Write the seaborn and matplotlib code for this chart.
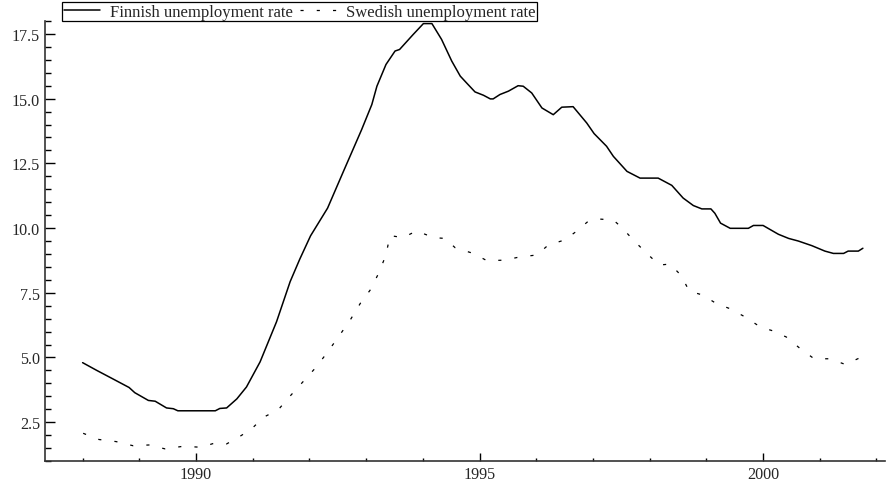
import matplotlib
matplotlib.use("Agg")
import matplotlib.pyplot as plt
from matplotlib.ticker import MultipleLocator, FormatStrFormatter
import seaborn as sns
import pandas as pd

sns.set_style("ticks")
plt.rcParams['font.family'] = ['Liberation Serif', 'DejaVu Serif']

# Finnish unemployment rate
fin_year = [1988.00, 1988.25, 1988.51, 1988.82, 1988.92, 1989.16, 1989.28, 1989.48, 1989.60, 1989.68,
            1990.34, 1990.42, 1990.54, 1990.72, 1990.89, 1991.13, 1991.42, 1991.66, 1991.83, 1992.02,
            1992.32, 1992.60, 1992.92, 1993.10, 1993.19, 1993.35, 1993.51, 1993.59, 1993.83, 1994.01,
            1994.16, 1994.33, 1994.51, 1994.66, 1994.77, 1994.92, 1995.07, 1995.19, 1995.24, 1995.36,
            1995.51, 1995.68, 1995.77, 1995.92, 1996.10, 1996.30, 1996.45, 1996.65, 1996.89, 1997.02,
            1997.24, 1997.36, 1997.60, 1997.83, 1998.15, 1998.39, 1998.59, 1998.77, 1998.92, 1999.08,
            1999.15, 1999.25, 1999.42, 1999.74, 1999.83, 2000.00, 2000.27, 2000.45, 2000.62, 2000.86,
            2001.09, 2001.24, 2001.42, 2001.50, 2001.68, 2001.76]
fin_rate = [4.80, 4.50, 4.20, 3.84, 3.64, 3.34, 3.31, 3.05, 3.02, 2.94,
            2.94, 3.03, 3.05, 3.40, 3.86, 4.83, 6.38, 7.93, 8.80, 9.70,
            10.77, 12.19, 13.80, 14.77, 15.48, 16.32, 16.84, 16.90, 17.48, 17.90,
            17.90, 17.29, 16.45, 15.87, 15.61, 15.26, 15.13, 14.99, 14.99, 15.16,
            15.29, 15.50, 15.48, 15.22, 14.64, 14.38, 14.67, 14.69, 14.06, 13.65,
            13.16, 12.77, 12.19, 11.93, 11.93, 11.65, 11.16, 10.87, 10.74, 10.74,
            10.57, 10.19, 9.99, 9.99, 10.10, 10.10, 9.76, 9.60, 9.50, 9.32,
            9.11, 9.02, 9.02, 9.11, 9.11, 9.22]

# Swedish unemployment rate
swe_year = [1988.01, 1988.29, 1988.59, 1988.89, 1989.18, 1989.45, 1989.78, 1990.09, 1990.34, 1990.54,
            1990.78, 1990.98, 1991.19, 1991.45, 1991.66, 1991.89, 1992.12, 1992.32, 1992.51, 1992.72,
            1992.90, 1993.07, 1993.22, 1993.35, 1993.42, 1993.65, 1993.89, 1994.19, 1994.39, 1994.57,
            1994.89, 1995.13, 1995.44, 1995.70, 1996.01, 1996.21, 1996.50, 1996.70, 1996.92, 1997.10,
            1997.36, 1997.51, 1997.71, 1997.95, 1998.17, 1998.36, 1998.55, 1998.70, 1998.94, 1999.17,
            1999.41, 1999.68, 1999.95, 2000.17, 2000.41, 2000.64, 2000.90, 2001.18, 2001.45, 2001.74]
swe_rate = [2.07, 1.83, 1.75, 1.59, 1.62, 1.47, 1.57, 1.53, 1.70, 1.66,
            1.96, 2.24, 2.69, 2.98, 3.51, 4.07, 4.63, 5.21, 5.79, 6.45,
            7.10, 7.60, 8.25, 8.96, 9.71, 9.63, 9.89, 9.63, 9.60, 9.24,
            9.02, 8.74, 8.76, 8.88, 8.96, 9.34, 9.54, 9.86, 10.27, 10.35,
            10.31, 10.02, 9.54, 9.02, 8.57, 8.61, 8.18, 7.56, 7.41, 7.09,
            6.89, 6.57, 6.18, 6.03, 5.79, 5.37, 4.95, 4.95, 4.73, 5.02]

fin = pd.DataFrame({'year': fin_year, 'rate': fin_rate})
swe = pd.DataFrame({'year': swe_year, 'rate': swe_rate})

fig = plt.figure(figsize=(8.86, 4.85), dpi=100)
ax = fig.add_axes([45/886, 1 - 462/485, 840/886, 440/485])

sns.lineplot(data=fin, x='year', y='rate', ax=ax, color='black', linewidth=1.1,
             label='Finnish unemployment rate')
sns.lineplot(data=swe, x='year', y='rate', ax=ax, color='black', linewidth=0.9,
             label='Swedish unemployment rate')
ax.lines[1].set_dashes((2.5, 10.5))

ax.set_xlim(1987.337, 2002.15)
ax.set_ylim(1.0, 18.0)
ax.set_xlabel('')
ax.set_ylabel('')

ax.xaxis.set_major_locator(MultipleLocator(5))
ax.xaxis.set_minor_locator(MultipleLocator(1))
ax.yaxis.set_minor_locator(MultipleLocator(0.5))
ax.set_yticks([2.5, 5.0, 7.5, 10.0, 12.5, 15.0, 17.5])
ax.yaxis.set_major_formatter(FormatStrFormatter('%.1f'))
ax.tick_params(which='major', direction='in', length=6, width=1, labelsize=11.6, color='black')
ax.tick_params(which='minor', direction='in', length=2.5, width=1, color='black')
ax.tick_params(axis='y', which='major', length=7)
ax.tick_params(axis='y', which='minor', length=4.5)

sns.despine(ax=ax)
for s in ['left', 'bottom']:
    ax.spines[s].set_color('#333333')
    ax.spines[s].set_linewidth(1.2)

leg = ax.legend(loc='upper left', bbox_to_anchor=(62/886, 1 - 3/485), bbox_transform=fig.transFigure,
                ncol=2, fontsize=12, frameon=True, fancybox=False, borderpad=0.1,
                handlelength=2.2, handletextpad=0.55, columnspacing=0.45, borderaxespad=0)
leg.get_frame().set_edgecolor('black')
leg.get_frame().set_linewidth(0.9)
leg.get_frame().set_alpha(1)

fig.savefig('out.png', dpi=100)
